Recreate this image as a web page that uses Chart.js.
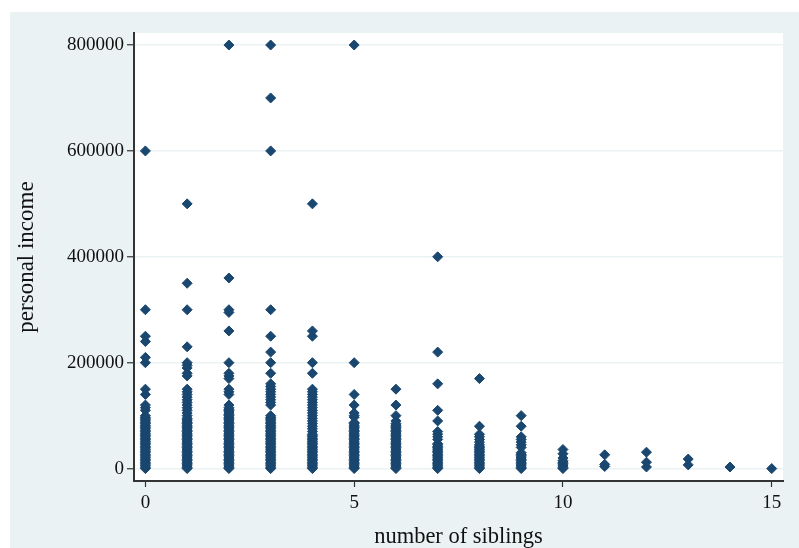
<!DOCTYPE html>
<html><head><meta charset="utf-8">
<script src="https://cdn.jsdelivr.net/npm/chart.js@4"></script>
<style>html,body{margin:0;padding:0;background:#fff;}canvas{display:block;}</style>
</head><body>
<canvas id="c" width="799" height="548"></canvas>
<script>
// number of siblings (x categories)
const siblings = [0,1,2,3,4,5,6,7,8,9,10,11,12,13,14,15];
// personal income observed for each sibling count, in thousands
const inc0 = [0,2,5,7,10,12,15,17,20,22,25,27,30,32,35,37,40,42,45,47,50,52,55,57,60,62,65,67,70,72,75,77,80,82,85,87,90,92,95,97,100,110,115,120,140,150,200,210,240,250,300,600];
const inc1 = [0,2,5,7,10,12,15,17,20,22,25,27,30,32,35,37,40,42,45,47,50,52,55,57,60,62,65,67,70,72,75,77,80,82,85,87,90,92,95,100,105,110,115,120,125,130,135,140,145,150,175,180,190,195,200,230,300,350,500];
const inc2 = [0,2,5,7,10,12,15,17,20,22,25,27,30,32,35,37,40,42,45,47,50,52,55,57,60,62,65,67,70,72,75,77,80,82,85,87,90,92,95,97,100,102,105,107,110,112,115,120,140,145,150,170,175,180,200,260,295,300,360,800];
const inc3 = [0,2,5,7,10,12,15,17,20,22,25,27,30,32,35,37,40,42,45,47,50,52,55,57,60,62,65,67,70,72,75,77,80,82,85,87,90,92,95,97,100,120,125,130,135,140,145,150,155,160,180,200,220,250,300,600,700,800];
const inc4 = [0,2,5,7,10,12,15,17,20,22,25,27,30,32,35,37,40,42,45,47,50,52,55,57,60,62,65,70,75,80,85,90,95,100,105,110,115,120,125,130,135,140,145,150,180,200,250,260,500];
const inc5 = [0,2,5,7,10,12,15,17,20,22,25,27,30,32,35,37,40,42,45,47,50,52,55,57,60,62,65,67,70,72,75,77,80,82,85,87,97,100,105,120,140,200,800];
const inc6 = [0,2,5,7,10,12,15,17,20,22,25,27,30,32,35,37,40,42,45,47,50,52,55,57,60,62,65,67,70,72,75,77,80,82,85,90,100,120,150];
const inc7 = [0,2,5,7,10,12,15,17,20,22,25,27,30,32,35,37,40,42,45,47,55,60,65,70,90,110,160,220,400];
const inc8 = [0,2,5,7,10,12,15,17,20,22,25,27,30,32,35,37,40,42,45,50,55,60,65,80,170];
const inc9 = [0,2,5,7,10,12,15,17,20,22,25,27,30,40,45,50,55,60,80,100];
const inc10 = [0,2,5,7,10,12,15,20,28,36];
const inc11 = [4,8,26];
const inc12 = [3,12,31];
const inc13 = [7,18];
const inc14 = [3];
const inc15 = [0];
const incomes = [inc0,inc1,inc2,inc3,inc4,inc5,inc6,inc7,inc8,inc9,inc10,inc11,inc12,inc13,inc14,inc15];
const xTickValues = [0,5,10,15];
const yTickValues = [0,200000,400000,600000,800000];

const points = [];
siblings.forEach((s, i) => incomes[i].forEach(v => points.push({x: s, y: v * 1000})));

const FONT = "'Liberation Serif','Times New Roman',Times,serif";
Chart.defaults.font.family = FONT;

const bgPlugin = {
  id: 'bg',
  beforeDraw(chart) {
    const {ctx, chartArea: a} = chart;
    ctx.save();
    ctx.fillStyle = '#ffffff';
    ctx.fillRect(0, 0, chart.width, chart.height);
    ctx.fillStyle = '#eaf2f3';
    ctx.fillRect(10, 12, chart.width - 10, chart.height - 12);
    ctx.fillStyle = '#ffffff';
    ctx.fillRect(a.left, a.top, a.right - a.left, a.bottom - a.top);
    ctx.restore();
  }
};

new Chart(document.getElementById('c'), {
  type: 'scatter',
  data: {
    datasets: [{
      data: points,
      pointStyle: 'rectRot',
      pointRadius: 5,
      pointBackgroundColor: '#1a476f',
      pointBorderColor: '#1a476f',
      pointBorderWidth: 1
    }]
  },
  options: {
    responsive: false,
    animation: false,
    devicePixelRatio: 1,
    layout: {padding: {left: 0, top: 33, right: 16, bottom: 0}},
    plugins: {legend: {display: false}, tooltip: {enabled: false}},
    scales: {
      x: {
        type: 'linear',
        min: -0.273,
        max: 15.27,
        afterBuildTicks: s => { s.ticks = xTickValues.map(v => ({value: v})); },
        afterFit: s => { s.height = 67; },
        grid: {drawOnChartArea: false, drawTicks: true, tickLength: 6, tickColor: '#333', tickWidth: 1.2},
        border: {display: true, color: '#333', width: 2},
        ticks: {color: '#111', font: {size: 19}, padding: 5, maxRotation: 0, autoSkip: false, callback: v => String(v)},
        title: {display: true, text: 'number of siblings', color: '#111', font: {size: 22.5, lineHeight: 1.0}, padding: {top: 0, bottom: 0}}
      },
      y: {
        type: 'linear',
        min: -23450,
        max: 822700,
        afterBuildTicks: s => { s.ticks = yTickValues.map(v => ({value: v})); },
        afterFit: s => { s.width = 134; },
        grid: {color: '#eaf2f3', lineWidth: 1.5, drawTicks: true, tickLength: 7, tickColor: '#333', tickWidth: 1.2},
        border: {display: true, color: '#333', width: 2},
        ticks: {color: '#111', font: {size: 19}, padding: 3, autoSkip: false, callback: v => String(v)},
        title: {display: true, text: 'personal income', color: '#111', font: {size: 23, lineHeight: 1.2}, padding: {top: 13, bottom: 0}}
      }
    }
  },
  plugins: [bgPlugin]
});
</script>
</body></html>
